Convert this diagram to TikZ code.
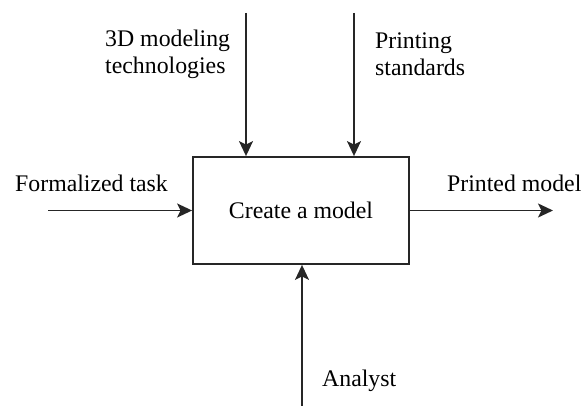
\documentclass[tikz,border=0pt]{standalone}
\usepackage{fontspec}
\setmainfont{Liberation Serif}
\usetikzlibrary{arrows.meta}
\begin{document}
\begin{tikzpicture}[x=1pt,y=-1pt,
  lbl/.style={inner sep=0pt,anchor=west,font=\fontsize{23.8}{27}\selectfont,align=left},
  conn/.style={line width=1.8pt,draw=black!85,-{Stealth[length=15pt,width=14pt,inset=3.5pt]}}]
\useasboundingbox (0,0) rectangle (587,406);
\node[draw=black!85,line width=1.8pt,minimum width=216pt,minimum height=107pt,inner sep=0pt,
  font=\fontsize{23.8}{27}\selectfont] (box) at (301,210.5) {Create a model};
\coordinate (inL) at (48,210.5);
\coordinate (outR) at (553,210.5);
\coordinate (c1) at (246,13);
\coordinate (c2) at (354,13);
\coordinate (m1) at (302,406);
\draw[conn] (inL) -- (inL -| box.west);
\draw[conn] (box.east) -- (outR);
\draw[conn] (c1) -- (c1 |- box.north);
\draw[conn] (c2) -- (c2 |- box.north);
\draw[conn] (m1) -- (m1 |- box.south);
\node[lbl] (t1) at (15,183) {Formalized task};
\node[lbl] (t2) at (447,183) {Printed model};
\node[lbl] (t3) at (105,54) {3D modeling\\technologies};
\node[lbl] (t4) at (375,54) {Printing\\standards};
\node[lbl] (t5) at (322,381) {Analyst};
\end{tikzpicture}
\end{document}
